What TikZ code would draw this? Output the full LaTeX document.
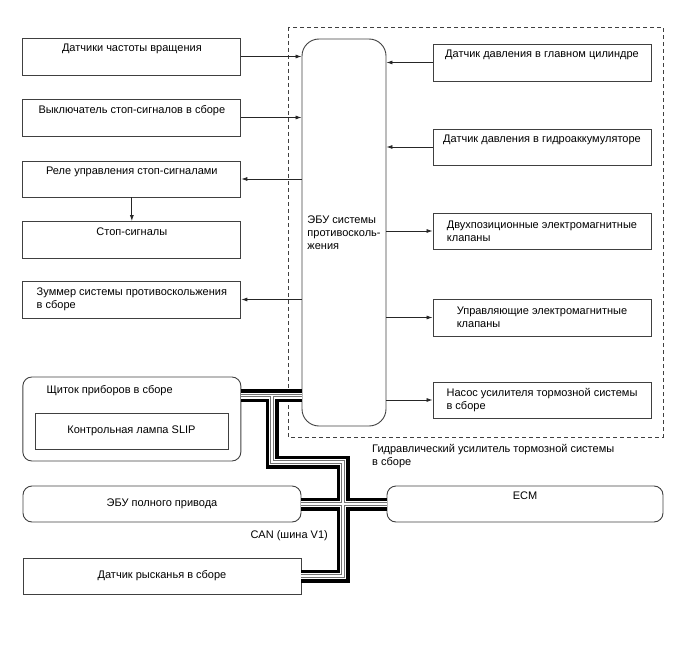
\documentclass[tikz,border=0pt]{standalone}
\usepackage{fontspec}
\setmainfont{Liberation Sans}
\usetikzlibrary{arrows.meta, positioning, calc}

\begin{document}
\begin{tikzpicture}[x=1pt, y=-1pt, >={Latex[length=6pt,width=4pt]},
	every node/.style={font=\fontsize{11}{13}\selectfont},
	blk/.style={draw=black!75, line width=0.9pt, minimum width=218pt,
		minimum height=37pt, inner sep=0pt, align=center},
	rblk/.style={blk, rounded corners=9pt},
	sig/.style={draw=black!85, line width=0.8pt},
	canbus/.style={line width=13pt, black, postaction={draw, line width=6pt, white,
		postaction={draw, line width=3.5pt, black!55,
		postaction={draw, line width=1.5pt, white}}}}]
	\useasboundingbox (0,0) rectangle (688,658);

	% left column
	\node[blk] (speed) at (131.85,56.5) {Датчики частоты вращения\\ \strut};
	\node[blk] (stopsw) at (131.85,117.5) {Выключатель стоп-сигналов в сборе\\ \strut};
	\node[blk, minimum height=36pt] (relay) at (131.85,179) {Реле управления стоп-сигналами\\ \strut};
	\node[blk] (lamps) at (131.85,240) {Стоп-сигналы\\ \strut};
	\node[blk, align=left] (buzzer) at (131.85,299.5) {Зуммер системы противоскольжения\\в сборе};
	\node[rblk, minimum height=84pt] (cluster) at (131.85,419) {};
	\node[anchor=base west] (clustertxt) at (43,393) {Щиток приборов в сборе};
	\node[blk, minimum width=193pt, minimum height=36pt] (slip) at (131.5,431) {Контрольная лампа SLIP};
	\node[rblk, minimum width=278pt, minimum height=36pt] (awd) at (162,504) {ЭБУ полного привода};
	\node[anchor=base west] (canlbl) at (247,538) {CAN (шина V1)};
	\node[blk, minimum width=278pt, minimum height=36pt] (yaw) at (162,576) {Датчик рысканья в сборе};

	% hydraulic booster
	\draw[black!75, line width=0.8pt, dash pattern=on 4pt off 3pt] (288,27) rectangle (663,437);
	\node[blk, rounded corners=17pt, minimum width=84pt, minimum height=387pt, align=left]
		(ecu) at (344,232.5) {ЭБУ системы\\противосколь-\\жения};
	\node[blk] (mcyl) at (542,62.5) {Датчик давления в главном цилиндре\\ \strut};
	\node[blk, minimum height=36pt] (accum) at (542,147) {Датчик давления в гидроаккумуляторе\\ \strut};
	\node[blk, minimum height=36pt, align=left] (swvalve) at (542,231) {Двухпозиционные электромагнитные\\клапаны};
	\node[blk, align=left] (ctlvalve) at (542,317.5) {Управляющие электромагнитные\\клапаны};
	\node[blk, minimum height=36pt, align=left] (pump) at (542,400) {Насос усилителя тормозной системы\\в сборе};
	\node[anchor=north west, inner sep=0pt, align=left] (hbooster) at (372,444) {Гидравлический усилитель тормозной системы\\в сборе};
	\node[rblk, minimum width=276pt, minimum height=36pt] (ecm) at (525,504) {ECM\\ \strut};

	% signals
	\foreach \n in {speed, stopsw}
		\draw[sig, ->] (\n.east) -- (\n.east -| ecu.west);
	\foreach \n in {relay, buzzer}
		\draw[sig, ->] (\n.east -| ecu.west) -- (\n.east);
	\foreach \n in {mcyl, accum}
		\draw[sig, ->] (\n.west) -- (\n.west -| ecu.east);
	\foreach \n in {swvalve, ctlvalve, pump}
		\draw[sig, ->] (\n.west -| ecu.east) -- (\n.west);
	\draw[sig, ->] (relay.south) -- (lamps.north);

	% CAN bus
	\coordinate (busA) at (272,395.5);
	\coordinate (busB) at (343,462);
	\draw[canbus] (ecu.west |- busA) -- (cluster.east |- busA)
		(busA) |- (busB) |- (yaw.east)
		(awd.east) -- (ecm.west);
\end{tikzpicture}
\end{document}
